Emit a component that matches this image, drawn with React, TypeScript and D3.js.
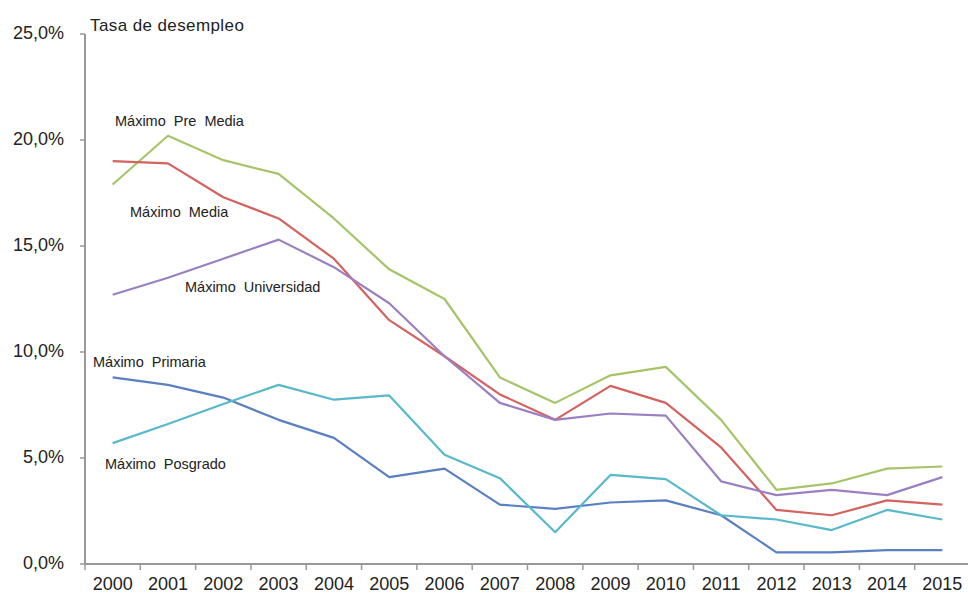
import React from "react";
import * as d3 from "d3";

const WIDTH = 968;
const HEIGHT = 596;

const years = [
  "2000", "2001", "2002", "2003", "2004", "2005", "2006", "2007",
  "2008", "2009", "2010", "2011", "2012", "2013", "2014", "2015",
];

const preMedia = [17.9, 20.2, 19.05, 18.4, 16.3, 13.9, 12.5, 8.8, 7.6, 8.9, 9.3, 6.8, 3.5, 3.8, 4.5, 4.6];
const media = [19.0, 18.9, 17.3, 16.3, 14.4, 11.5, 9.8, 8.0, 6.8, 8.4, 7.6, 5.5, 2.55, 2.3, 3.0, 2.8];
const universidad = [12.7, 13.5, 14.4, 15.3, 14.0, 12.3, 9.8, 7.6, 6.8, 7.1, 7.0, 3.9, 3.25, 3.5, 3.25, 4.1];
const primaria = [8.8, 8.45, 7.85, 6.8, 5.95, 4.1, 4.5, 2.8, 2.6, 2.9, 3.0, 2.3, 0.55, 0.55, 0.65, 0.65];
const posgrado = [5.7, 6.6, 7.55, 8.45, 7.75, 7.95, 5.15, 4.05, 1.5, 4.2, 4.0, 2.3, 2.1, 1.6, 2.55, 2.1];

const yTicks = [0, 5, 10, 15, 20, 25];

const series = [
  { name: "Máximo Pre Media", values: preMedia, color: "#a6c46a", lx: 115, ly: 122 },
  { name: "Máximo Media", values: media, color: "#d4625f", lx: 130, ly: 213 },
  { name: "Máximo Universidad", values: universidad, color: "#9b7fc2", lx: 185, ly: 288 },
  { name: "Máximo Primaria", values: primaria, color: "#5a7fc2", lx: 93, ly: 363 },
  { name: "Máximo Posgrado", values: posgrado, color: "#58b8cc", lx: 105, ly: 465 },
];

const FONT = "'Liberation Sans', Arial, sans-serif";

export default function App() {
  const x = d3.scaleBand().domain(years).range([85, 970]);
  const y = d3.scaleLinear().domain([0, 25]).range([564, 34]);
  const line = d3
    .line<number>()
    .x((_, i) => (x(years[i]) as number) + x.bandwidth() / 2)
    .y((d) => y(d));

  const edges = years.map((yr) => x(yr) as number).concat([x.range()[1]]);

  return (
    <svg
      width={WIDTH}
      height={HEIGHT}
      style={{ position: "absolute", left: 0, top: 0, background: "#fff" }}
      fontFamily={FONT}
    >
      {/* y axis */}
      <line x1={85} x2={85} y1={y(25)} y2={y(0)} stroke="#999" strokeWidth={2} />
      {yTicks.map((t) => (
        <g key={t}>
          <line x1={80} x2={85} y1={y(t)} y2={y(t)} stroke="#999" strokeWidth={1.5} />
          <text
            x={64}
            y={y(t)}
            textAnchor="end"
            dominantBaseline="middle"
            fontSize={18}
            fill="#222"
          >
            {t.toFixed(1).replace(".", ",") + "%"}
          </text>
        </g>
      ))}

      {/* x axis */}
      <line x1={85} x2={970} y1={y(0)} y2={y(0)} stroke="#999" strokeWidth={2} />
      {edges.map((e, i) => (
        <line key={i} x1={e} x2={e} y1={y(0)} y2={y(0) + 6} stroke="#999" strokeWidth={1.5} />
      ))}
      {years.map((yr) => (
        <text
          key={yr}
          x={(x(yr) as number) + x.bandwidth() / 2}
          y={585}
          textAnchor="middle"
          dominantBaseline="middle"
          fontSize={18}
          fill="#222"
        >
          {yr}
        </text>
      ))}

      <text x={90} y={27} dominantBaseline="middle" fontSize={17} letterSpacing={0.4} fill="#222">
        Tasa de desempleo
      </text>

      {series.map((s) => (
        <path
          key={s.name}
          d={line(s.values) || ""}
          fill="none"
          stroke={s.color}
          strokeWidth={2.2}
          strokeLinejoin="round"
        />
      ))}

      {series.map((s) => (
        <text
          key={s.name + "-label"}
          x={s.lx}
          y={s.ly}
          dominantBaseline="middle"
          fontSize={14.5}
          wordSpacing={4}
          fill="#222"
        >
          {s.name}
        </text>
      ))}
    </svg>
  );
}
